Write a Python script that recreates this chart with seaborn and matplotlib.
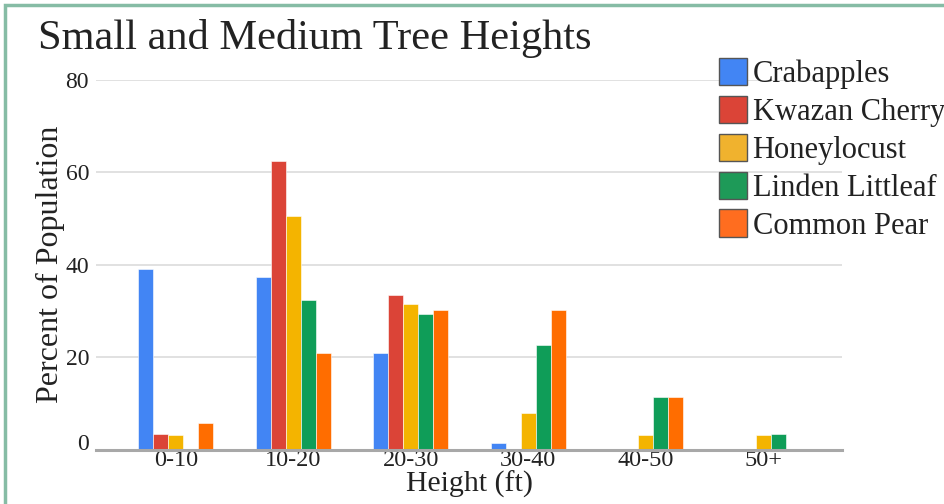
import matplotlib
matplotlib.use("Agg")
import matplotlib.pyplot as plt
from matplotlib.patches import Rectangle, Patch
from matplotlib.transforms import ScaledTranslation
import seaborn as sns
import pandas as pd

# Height classes and the share of each species' population in them (%)
heights = ["0-10", "10-20", "20-30", "30-40", "40-50", "50+"]
crabapples = [39.1, 37.3, 20.8, 1.5, 0, 0]
kwazan_cherry = [3.3, 62.5, 33.5, 0, 0, 0]
honeylocust = [3.1, 50.5, 31.4, 7.8, 3.1, 3.1]
linden_littleleaf = [0, 32.3, 29.3, 22.7, 11.3, 3.3]
common_pear = [5.7, 20.9, 30.3, 30.3, 11.4, 0]

species = ["Crabapples", "Kwazan Cherry", "Honeylocust", "Linden Littleaf", "Common Pear"]
colors = ["#4285F4", "#DB4437", "#F4B400", "#0F9D58", "#FF6D00"]
legend_colors = ["#4285F4", "#DB4437", "#F0B22E", "#1E9A58", "#FF6D1F"]
yticks = [0, 20, 40, 60, 80]

series = [crabapples, kwazan_cherry, honeylocust, linden_littleleaf, common_pear]
df = pd.DataFrame(
    [(h, s, v) for s, vals in zip(species, series) for h, v in zip(heights, vals)],
    columns=["height", "species", "percent"],
)

sns.set_theme(style="white")
plt.rcParams["font.family"] = ["Liberation Serif", "DejaVu Serif"]

fig = plt.figure(figsize=(9.44, 5.04), dpi=100)
W, H = 944, 504
ax = fig.add_axes([96 / W, (H - 449.5) / H, 746 / W, (449.5 - 80) / H])

sns.barplot(
    data=df, x="height", y="percent", hue="species", order=heights,
    hue_order=species, palette=colors, width=0.64, saturation=1,
    edgecolor="white", linewidth=0.4, legend=False, ax=ax, zorder=3,
)

ax.set_xlim(-0.68, 5.67)
ax.set_ylim(0, 80)
ax.set_yticks(yticks)
ax.set_yticklabels([str(t) for t in yticks])
ax.yaxis.grid(True, color="#dcdcdc", linewidth=1.2, zorder=0)
ax.xaxis.grid(False)
for side in ["left", "right", "top"]:
    ax.spines[side].set_visible(False)
ax.spines["bottom"].set_color("#a8a8a8")
ax.spines["bottom"].set_linewidth(2.2)
ax.spines["bottom"].set_zorder(4)
ax.tick_params(axis="both", length=0, colors="#222222")
ax.tick_params(axis="y", pad=5, labelsize=17)
ax.tick_params(axis="x", pad=0, labelsize=17.5)

# the zero label sits a little above the baseline
zero_label = ax.get_yticklabels()[0]
zero_label.set_transform(zero_label.get_transform() + ScaledTranslation(0, 8 / 100, fig.dpi_scale_trans))

ax.set_xlabel("Height (ft)", fontsize=21.5, color="#222222", labelpad=0)
ax.set_ylabel("Percent of Population", fontsize=23, color="#222222", labelpad=0)

fig.text(38 / W, 1 - 38 / H, "Small and Medium Tree Heights", fontsize=30.5,
         color="#222222", va="center", ha="left")

handles = [Patch(facecolor=c, edgecolor="#555555", linewidth=1) for c in legend_colors]
fig.legend(
    handles, species, loc="upper left", bbox_to_anchor=(719 / W, 1 - 58 / H),
    frameon=False, fontsize=22, handlelength=0.92, handleheight=1.0,
    handletextpad=0.18, labelspacing=0.22, borderaxespad=0, borderpad=0,
    labelcolor="#222222",
)

# outer frame
fig.patches.append(Rectangle((5 / W, -0.1), 1.2, 1 - 5 / H + 0.1, transform=fig.transFigure,
                             fill=False, edgecolor="#86bca5", linewidth=2.5))

fig.savefig("out.png", dpi=100, facecolor="white")
